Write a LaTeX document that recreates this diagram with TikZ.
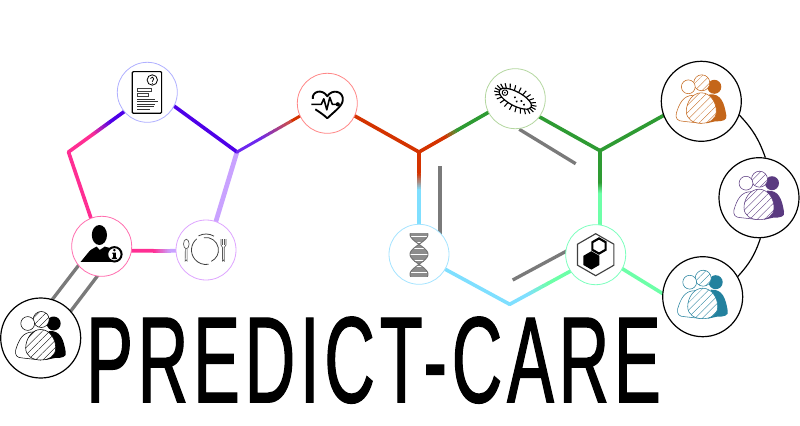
\documentclass[tikz,border=0pt]{standalone}
\usepackage{fontspec}
\usetikzlibrary{calc,backgrounds,patterns.meta}
\newfontfamily\titlefont[FakeStretch=.57,LetterSpace=4,FakeBold=1.0]{Liberation Sans}
\definecolor{cpurple}{HTML}{4E00E8}
\definecolor{cpink}{HTML}{FF2E93}
\definecolor{clilac}{HTML}{C9A2FF}
\definecolor{cred}{HTML}{D43300}
\definecolor{cgreen}{HTML}{2E9B33}
\definecolor{cblue}{HTML}{7FDFFF}
\definecolor{cmint}{HTML}{6DFFA8}
\definecolor{cgray}{HTML}{7A7A7A}
\definecolor{corange}{HTML}{C4661A}
\definecolor{cviolet}{HTML}{5A3A80}
\definecolor{cteal}{HTML}{23819E}
\definecolor{rdoc}{HTML}{B0B0FF}
\definecolor{ruser}{HTML}{FF6EAF}
\definecolor{rplate}{HTML}{DEA5FF}
\definecolor{rheart}{HTML}{FF8787}
\definecolor{rbact}{HTML}{B4D7A0}
\definecolor{rdna}{HTML}{A5E4FF}
\definecolor{rhex}{HTML}{7DFFBE}
\tikzset{
  ring/.style={circle,draw=#1,line width=.6pt,fill=white,minimum size=45pt,inner sep=0pt},
  bigring/.style={circle,draw=black,line width=.9pt,fill=white,minimum size=60pt,inner sep=0pt},
  bond/.style={line width=2.7pt},
  dbl/.style={line width=2.5pt,color=cgray},
  hatchfill/.style={preaction={fill=white},pattern={Lines[angle=45,distance=3.9pt,line width=.25pt]},pattern color=#1},
}
% A to B: solid colA up to t0, mixed to t1, then solid colB
\newcommand\gradbond[7][2.7pt]{%
  \draw[line width=#1,color=#4,line cap=round] (#2) -- ($(#2)!#6!(#3)$);
  \draw[line width=#1,color=#5,line cap=round] ($(#2)!#7!(#3)$) -- (#3);
  \foreach \i in {1,...,24}{%
    \pgfmathsetmacro\ta{#6+(#7-#6)*(\i-1)/24}
    \pgfmathsetmacro\tb{#6+(#7-#6)*(\i+.3)/24}
    \pgfmathsetmacro\mx{100*(\i-.5)/24}
    \draw[line width=#1,color={#5!\mx!#4}] ($(#2)!\ta!(#3)$) -- ($(#2)!\tb!(#3)$);
  }%
}
\newcommand\peopleicon[2]{%
  \begin{scope}[shift={(#1)}]
    \fill[#2] (13,-14.5) circle (7);
    \draw[#2,line width=.4pt,hatchfill=#2] (.5,-18.5) circle (8);
    \draw[#2,line width=.4pt,fill=white] (-13,-14.5) circle (6.9);
    \draw[#2,line width=.4pt,fill=white] (-8,-6) .. controls (-18,-6) and (-22,2) .. (-25,12) .. controls (-26,17) and (-24,20) .. (-18,20) -- (0,22) -- (0,0) -- cycle;
    \fill[#2] (8,-7) .. controls (20,-8) and (23,2) .. (25,14) .. controls (26,19) and (22,20) .. (14,20) -- (5,22) -- cycle;
    \draw[#2,line width=.4pt,hatchfill=#2] (0,-8.5) .. controls (9,-8.5) and (15,1) .. (15,10) .. controls (15,18) and (8,22) .. (0,22) .. controls (-8,22) and (-15,18) .. (-15,10) .. controls (-15,1) and (-9,-8.5) .. (0,-8.5) -- cycle;
  \end{scope}%
}
\begin{document}
\begin{tikzpicture}[x=.75pt,y=-.75pt]
\useasboundingbox (0,0) rectangle (800,425);
% skeleton vertices
\coordinate (p1) at (153,90.7);
\coordinate (p2) at (237,152);
\coordinate (p3) at (207,250.7);
\coordinate (p4) at (102,250.7);
\coordinate (p5) at (68.5,152);
\coordinate (hv) at (327.3,100.5);
\coordinate (j1) at (419,152);
\coordinate (tv) at (509.7,100.2);
\coordinate (rj) at (600,150.7);
\coordinate (ov) at (701,94.7);
\coordinate (hxv) at (600,255);
\coordinate (tlv) at (690,310.4);
\coordinate (bv) at (509.7,304.3);
\coordinate (dv) at (419,255);
\coordinate (g1a) at (519.3,129.3);
\coordinate (g1b) at (575.7,163.7);
\coordinate (g2a) at (440,166.3);
\coordinate (g2b) at (440,240);
\coordinate (g3a) at (512.7,280);
\coordinate (g3b) at (575,246.5);
\coordinate (g4a) at (85,257);
\coordinate (g4b) at (45,309);
\coordinate (g5a) at (105,266);
\coordinate (g5b) at (64,320);
% nodes
\node[ring=rdoc] (doc) at (147.3,92.3) {};
\node[ring=ruser] (user) at (101.7,246.3) {};
\node[ring=rplate] (plate) at (206,250) {};
\node[ring=rheart] (heart) at (327.3,103.3) {};
\node[ring=rbact] (bact) at (515.3,98.7) {};
\node[ring=rdna] (dna) at (419,254.3) {};
\node[ring=rhex] (hexa) at (595.7,254.7) {};
\node[bigring] (pk) at (40.7,338) {};
\node[bigring] (po) at (701.3,101.3) {};
\node[bigring] (pv) at (759,197.7) {};
\node[bigring] (pt) at (702.7,296.7) {};
\begin{pgfonlayer}{background}
  \draw[dbl] (g1a) -- (g1b);
  \draw[dbl] (g2a) -- (g2b);
  \draw[dbl] (g3a) -- (g3b);
  \draw[dbl] (g4a) -- (g4b);
  \draw[dbl] (g5a) -- (g5b);
  \gradbond{p1}{p5}{cpurple}{cpink}{.5}{.72}
  \draw[bond,cpink,line cap=round] (p5) -- (p4);
  \gradbond{p4}{p3}{cpink}{clilac}{.49}{.65}
  \draw[line width=3.5pt,clilac] (p3) -- (p2);
  \draw[bond,cpurple,line cap=round] (p1) -- (p2);
  \gradbond[2.2pt]{p2}{hv}{cpurple!75!clilac}{cred}{.25}{.6}
  \draw[bond,cred,line cap=round] (hv) -- (j1);
  \gradbond{j1}{tv}{cred}{cgreen}{.29}{.43}
  \gradbond{j1}{dv}{cred}{cblue}{.21}{.37}
  \draw[bond,cblue,line cap=round] (dv) -- (bv);
  \gradbond{bv}{hxv}{cblue}{cmint}{.2}{.43}
  \draw[bond,cgreen,line cap=round] (tv) -- (rj);
  \draw[bond,cgreen,line cap=round] (rj) -- (ov);
  \gradbond{rj}{hxv}{cgreen}{cmint}{.31}{.41}
  \draw[bond,cmint] (hxv) -- (tlv);
\end{pgfonlayer}
\draw[line width=.9pt] (po.-20) to[bend left=12] (pv.81);
\draw[line width=.9pt] (pv.-88) to[bend left=12] (pt.30);
% document icon
\begin{scope}[shift={(doc)}]
  \draw[line width=.9pt,rounded corners=.8pt] (-15,-20.7) rectangle (14.3,21);
  \draw[line width=.6pt] (5,-12.3) circle (5.2);
  \draw[line width=.55pt] (3.2,-13.8) .. controls (3.6,-16) and (7,-15.5) .. (6.4,-13.4) .. controls (6,-12.3) and (5.2,-12.2) .. (5,-10.6);
  \fill (5,-9) circle (.55);
  \draw[line width=.5pt,black!75] (-10.3,-4) rectangle (3.7,-.7);
  \draw[line width=.5pt,black!75] (-10.3,.7) rectangle (1.3,4);
  \foreach \yy/\xx in {7/8,9.3/11,11.7/8,14.3/6.5,16.7/3}{%
    \draw[line width=.7pt,black!80] (-10.3,\yy) -- (\xx,\yy);
  }
\end{scope}
% user with info badge
\begin{scope}[shift={(user)}]
  \fill (-2.3,-11.3) ellipse (7.6 and 10);
  \fill (-21,15.5) -- (-12,4.5) .. controls (-9,2) and (-6,1) .. (-5,.3) -- (-2,3.7) -- (3,.3) .. controls (5,1) and (8,1.5) .. (10,2) -- (14,15.5) -- cycle;
  \draw[line width=1.5pt,fill=white] (12.7,8) circle (7.2);
  \fill (12.7,3.8) circle (1.4);
  \fill (10.6,6.2) -- (14.2,6.2) -- (14.2,11.2) -- (15.2,11.2) -- (15.2,12.8) -- (10.2,12.8) -- (10.2,11.2) -- (11.4,11.2) -- (11.4,7.6) -- (10.6,7.6) -- cycle;
\end{scope}
% plate icon
\begin{scope}[shift={(plate)}]
  \begin{scope}[yscale=-1]
    \draw[line width=.6pt,black!75] (130:14.5) arc[start angle=130,end angle=280,radius=14.5];
    \draw[line width=.6pt,black!75] (60:16) arc[start angle=60,end angle=118,radius=16];
    \draw[line width=.6pt,black!75] (100:12.5) arc[start angle=100,end angle=-65,radius=12.5];
  \end{scope}
  \draw[line width=.5pt,black!65,fill=white] (-19.7,-6) ellipse (2.8 and 4.8);
  \draw[line width=.5pt,black!65] (-20.6,-1.4) -- (-20.9,11) arc[start angle=180,end angle=360,radius=1] -- (-18.9,-1.4);
  \draw[line width=.5pt,black!65] (15,-11) -- (15,-5) .. controls (15,-3.4) and (16,-3) .. (16.5,-2.5) -- (16.4,11) arc[start angle=180,end angle=360,radius=.9] -- (18.2,-2.5) .. controls (19,-3) and (20,-3.4) .. (20,-5) -- (20,-11);
  \draw[line width=.5pt,black!65] (16.7,-11) -- (16.7,-5) (18.3,-11) -- (18.3,-5);
\end{scope}
% heart icon
\begin{scope}[shift={(heart)}]
  \draw[line width=1.4pt,line join=round] (-14.5,-4.5) .. controls (-15.5,-12) and (-5,-15) .. (0,-7) .. controls (5,-15) and (16.5,-12) .. (15.5,-3) .. controls (15,3) and (6,9) .. (0,15) .. controls (-3,12) and (-8,8.5) .. (-12,6);
  \draw[line width=1.2pt,line join=round] (-16,1) -- (-6,1) -- (-3.5,-4.5) -- (-.5,6.5) -- (2.5,-6) -- (5,1) -- (11,1);
  \fill (10.5,1) circle (2.1);
\end{scope}
% bacterium icon
\begin{scope}[shift={(bact)},rotate=-28]
  \draw[line width=.9pt] (0,0) ellipse (18 and 7);
  \foreach \a in {0,15,...,345}{%
    \draw[line width=.8pt] (\a:18 and 7) -- (\a:23 and 12.5);
  }
  \draw[line width=.7pt] (-12,-.5) circle (2.8);
  \fill (-12,-.5) circle (.9);
  \fill (-1,-1) circle (1.1) (2.5,1.8) circle (1.1) (6.5,-.8) circle (1.2) (10.5,1.2) circle (1.1);
\end{scope}
% DNA icon
\begin{scope}[shift={(dna)}]
  \foreach \yy in {-21,-19.8,...,22.5}{%
    \pgfmathsetmacro\xx{9*cos(9*\yy)}
    \draw[line width=.45pt,black!45] (-\xx,\yy) -- (\xx,\yy);
  }
  \draw[line width=.7pt,black!55] plot[domain=-21:22.5,samples=45,smooth] ({9*cos(9*\x)},\x);
  \draw[line width=.7pt,black!55] plot[domain=-21:22.5,samples=45,smooth] ({-9*cos(9*\x)},\x);
\end{scope}
% hexagon icon
\begin{scope}[shift={(hexa)}]
  \draw[line width=.85pt,black!75] (90:21) -- (30:21) -- (-30:21) -- (-90:21) -- (-150:21) -- (150:21) -- cycle;
  \begin{scope}[shift={(-4.3,5.7)}]
    \fill (90:9.2) -- (30:9.2) -- (-30:9.2) -- (-90:9.2) -- (-150:9.2) -- (150:9.2) -- cycle;
  \end{scope}
  \begin{scope}[shift={(3.3,-8.7)}]
    \draw[line width=1.6pt,fill=white] (90:7.6) -- (30:7.6) -- (-30:7.6) -- (-90:7.6) -- (-150:7.6) -- (150:7.6) -- cycle;
  \end{scope}
\end{scope}
\peopleicon{pk}{black}
\peopleicon{po}{corange}
\peopleicon{pv}{cviolet}
\peopleicon{pt}{cteal}
\node[anchor=base west,inner sep=0pt,font=\titlefont\fontsize{92}{92}\selectfont] (title) at (86,402.3) {PREDICT-CARE};
\end{tikzpicture}
\end{document}
